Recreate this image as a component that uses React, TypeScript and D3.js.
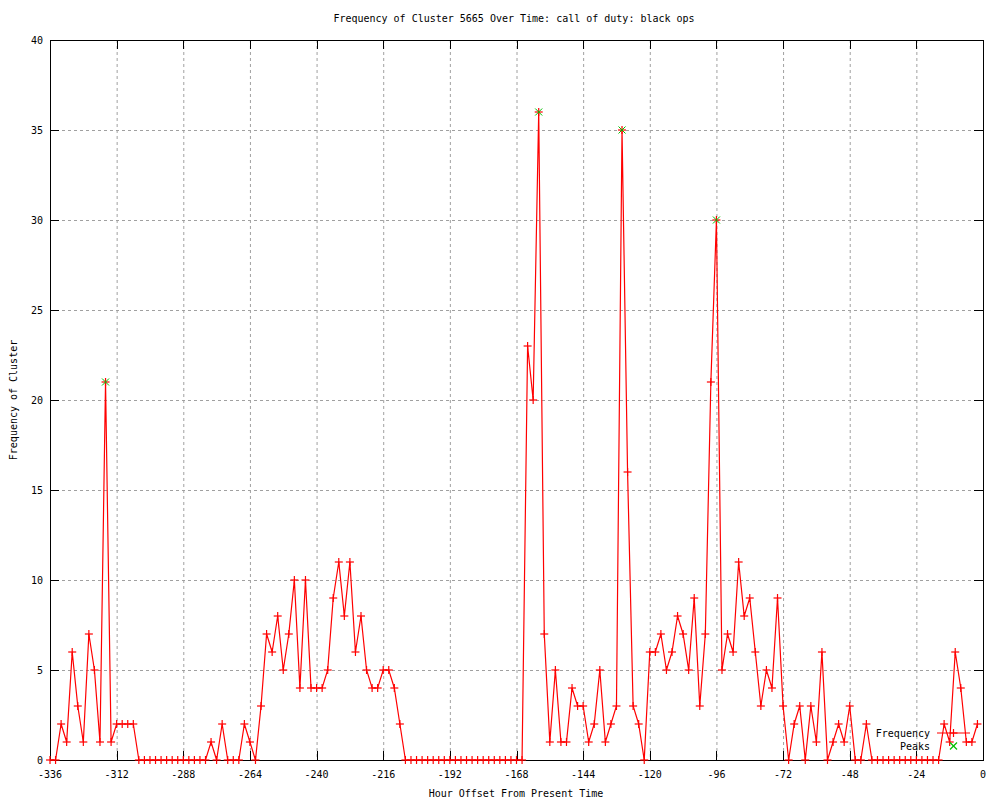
import { useEffect, useRef } from "react";
import * as d3 from "d3";

const startHour = -336;
const stepHours = 2;
// frequency per 2-hour bucket, -336 .. -2
const counts = [
  0, 0, 2, 1, 6, 3, 1, 7, 5, 1, 21, 1,
  2, 2, 2, 2, 0, 0, 0, 0, 0, 0, 0, 0,
  0, 0, 0, 0, 0, 1, 0, 2, 0, 0, 0, 2,
  1, 0, 3, 7, 6, 8, 5, 7, 10, 4, 10, 4,
  4, 4, 5, 9, 11, 8, 11, 6, 8, 5, 4, 4,
  5, 5, 4, 2, 0, 0, 0, 0, 0, 0, 0, 0,
  0, 0, 0, 0, 0, 0, 0, 0, 0, 0, 0, 0,
  0, 0, 23, 20, 36, 7, 1, 5, 1, 1, 4, 3,
  3, 1, 2, 5, 1, 2, 3, 35, 16, 3, 2, 0,
  6, 6, 7, 5, 6, 8, 7, 5, 9, 3, 7, 21,
  30, 5, 7, 6, 11, 8, 9, 6, 3, 5, 4, 9,
  3, 0, 2, 3, 0, 3, 1, 6, 0, 1, 2, 1,
  3, 0, 0, 2, 0, 0, 0, 0, 0, 0, 0, 0,
  0, 0, 0, 0, 0, 2, 1, 6, 4, 1, 1, 2,
];
const peakHours = [-316, -160, -130, -96];
const peakCounts = [21, 36, 35, 30];
const xTicks = [-336, -312, -288, -264, -240, -216, -192, -168, -144, -120, -96, -72, -48, -24, 0];
const yTicks = [0, 5, 10, 15, 20, 25, 30, 35, 40];

const W = 1000;
const H = 800;
const font = "'DejaVu Sans Mono', monospace";

export default function App() {
  const ref = useRef<SVGSVGElement>(null);

  useEffect(() => {
    const svg = d3.select(ref.current);
    svg.selectAll("*").remove();

    const x = d3.scaleLinear().domain([-336, 0]).range([50, 983]);
    const y = d3.scaleLinear().domain([0, 40]).range([760, 40]);
    const [x0, x1] = x.range();
    const [y0, y1] = y.range();

    const pts = counts.map((c, i) => ({ h: startHour + i * stepHours, c }));
    const peaks = peakHours.map((h, i) => ({ h, c: peakCounts[i] }));

    svg.append("rect").attr("width", W).attr("height", H).attr("fill", "#fff");

    // grid
    const grid = svg.append("g").attr("stroke", "#a0a0a0").attr("stroke-dasharray", "3,3").attr("stroke-width", 1);
    xTicks.slice(1, -1).forEach((t) => {
      grid.append("line").attr("x1", x(t) + 0.5).attr("x2", x(t) + 0.5).attr("y1", y1).attr("y2", y0);
    });
    yTicks.slice(1, -1).forEach((t) => {
      grid.append("line").attr("x1", x0).attr("x2", x1).attr("y1", y(t) + 0.5).attr("y2", y(t) + 0.5);
    });

    // ticks (inside, mirrored)
    const ticks = svg.append("g").attr("stroke", "#000").attr("stroke-width", 1);
    const tl = 9;
    xTicks.forEach((t) => {
      const px = Math.round(x(t)) + 0.5;
      ticks.append("line").attr("x1", px).attr("x2", px).attr("y1", y0).attr("y2", y0 - tl);
      ticks.append("line").attr("x1", px).attr("x2", px).attr("y1", y1).attr("y2", y1 + tl);
    });
    yTicks.forEach((t) => {
      const py = Math.round(y(t)) + 0.5;
      ticks.append("line").attr("x1", x0).attr("x2", x0 + tl).attr("y1", py).attr("y2", py);
      ticks.append("line").attr("x1", x1).attr("x2", x1 - tl).attr("y1", py).attr("y2", py);
    });

    // frame
    svg.append("rect")
      .attr("x", x0 + 0.5).attr("y", y1 + 0.5)
      .attr("width", x1 - x0).attr("height", y0 - y1)
      .attr("fill", "none").attr("stroke", "#000");

    // tick labels
    const txt = svg.append("g").attr("font-family", font).attr("font-size", 10).attr("fill", "#000");
    xTicks.forEach((t) => {
      txt.append("text").attr("x", x(t)).attr("y", y0 + 18).attr("text-anchor", "middle").text(t);
    });
    yTicks.forEach((t) => {
      txt.append("text").attr("x", x0 - 7).attr("y", y(t) + 4).attr("text-anchor", "end").text(t);
    });

    txt.append("text").attr("x", 514).attr("y", 22).attr("text-anchor", "middle").text("Frequency of Cluster 5665 Over Time: call of duty: black ops");
    txt.append("text").attr("x", 516).attr("y", 797).attr("text-anchor", "middle").text("Hour Offset From Present Time");
    txt.append("text")
      .attr("transform", `translate(17,${(y0 + y1) / 2}) rotate(-90)`)
      .attr("text-anchor", "middle")
      .text("Frequency of Cluster");

    // series line
    const line = d3.line<{ h: number; c: number }>().x((d) => x(d.h)).y((d) => y(d.c));
    svg.append("path").datum(pts).attr("d", line).attr("fill", "none").attr("stroke", "#ff0000").attr("stroke-width", 1.2);

    const plus = (g: d3.Selection<SVGGElement, unknown, null, undefined>, cx: number, cy: number, s: number, color: string) => {
      g.append("line").attr("x1", cx - s).attr("x2", cx + s).attr("y1", cy).attr("y2", cy).attr("stroke", color);
      g.append("line").attr("x1", cx).attr("x2", cx).attr("y1", cy - s).attr("y2", cy + s).attr("stroke", color);
    };
    const cross = (g: d3.Selection<SVGGElement, unknown, null, undefined>, cx: number, cy: number, s: number, color: string) => {
      g.append("line").attr("x1", cx - s).attr("x2", cx + s).attr("y1", cy - s).attr("y2", cy + s).attr("stroke", color);
      g.append("line").attr("x1", cx - s).attr("x2", cx + s).attr("y1", cy + s).attr("y2", cy - s).attr("stroke", color);
    };

    const pg = svg.append("g").attr("stroke-width", 1.2);
    pts.forEach((d) => plus(pg, x(d.h), y(d.c), 4, "#ff0000"));

    const kg = svg.append("g").attr("stroke-width", 1);
    peaks.forEach((d) => cross(kg, x(d.h), y(d.c), 3.5, "#00c000"));

    // legend
    const lg = svg.append("g").attr("font-family", font).attr("font-size", 10);
    lg.append("text").attr("x", 930).attr("y", 737).attr("text-anchor", "end").text("Frequency");
    lg.append("text").attr("x", 930).attr("y", 750).attr("text-anchor", "end").text("Peaks");
    lg.append("line").attr("x1", 937).attr("x2", 970).attr("y1", 733).attr("y2", 733).attr("stroke", "#ff0000").attr("stroke-width", 1.2);
    const lp = lg.append("g").attr("stroke-width", 1.2);
    plus(lp, 953.5, 733, 4, "#ff0000");
    cross(lp, 953.5, 746, 3.5, "#00c000");
  }, []);

  return (
    <svg
      ref={ref}
      width={W}
      height={H}
      style={{ position: "absolute", left: 0, top: 0 }}
    />
  );
}
